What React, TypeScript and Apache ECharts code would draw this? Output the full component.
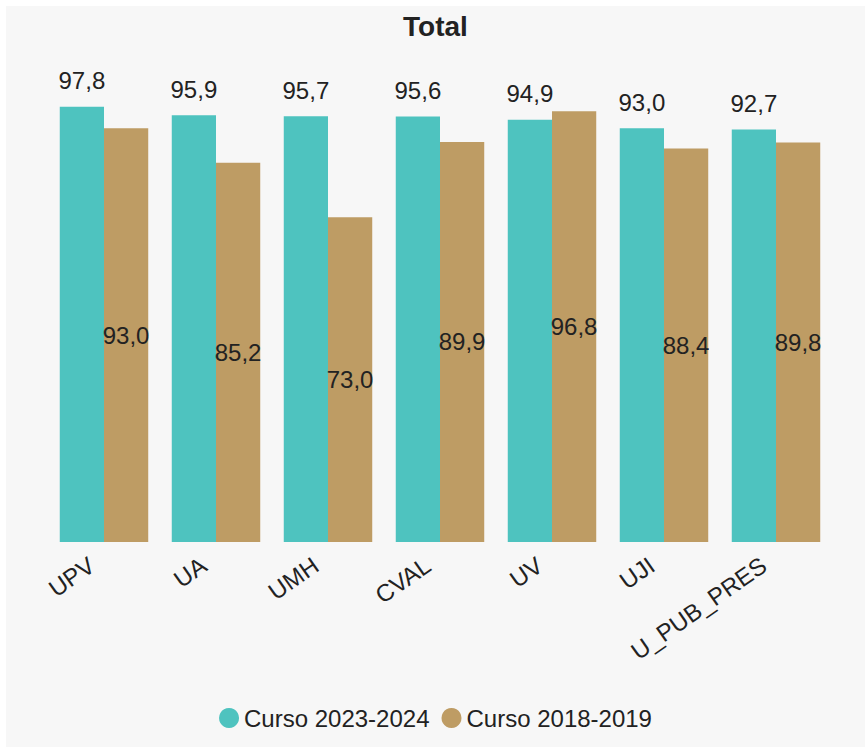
import React, { useEffect, useRef } from "react";
import * as echarts from "echarts";

const categories = ["UPV", "UA", "UMH", "CVAL", "UV", "UJI", "U_PUB_PRES"];
const curso2023 = [97.8, 95.9, 95.7, 95.6, 94.9, 93.0, 92.7];
const curso2018 = [93.0, 85.2, 73.0, 89.9, 96.8, 88.4, 89.8];
const seriesNames = ["Curso 2023-2024", "Curso 2018-2019"];

const fmt = (p: any) => Number(p.value).toFixed(1).replace(".", ",");
const FONT = "Arial, 'Liberation Sans', sans-serif";

export default function App() {
  const ref = useRef<HTMLDivElement>(null);
  useEffect(() => {
    if (!ref.current) return;
    const chart = echarts.init(ref.current, undefined, { renderer: "svg" });
    chart.setOption({
      animation: false,
      backgroundColor: "#f7f7f7",
      textStyle: { fontFamily: FONT },
      title: {
        text: "Total",
        left: "center",
        top: 1,
        textStyle: { fontSize: 28, fontWeight: "bold", color: "#222", fontFamily: FONT },
      },
      legend: {
        bottom: 12,
        left: "center",
        icon: "circle",
        itemWidth: 20,
        itemHeight: 20,
        itemGap: 12,
        itemTextGap: 4,
        textStyle: { fontSize: 24, color: "#222", fontFamily: FONT },
        data: seriesNames,
      },
      grid: { left: 42, right: 33, top: 91, bottom: 205, containLabel: false },
      xAxis: {
        type: "category",
        data: categories,
        axisLine: { show: false },
        axisTick: { show: false },
        axisLabel: {
          rotate: 35,
          fontSize: 24,
          color: "#222",
          margin: 12,
          padding: [0, 15, 0, 0],
          fontFamily: FONT,
        },
      },
      yAxis: {
        type: "value",
        min: 0,
        max: 100,
        show: false,
        splitLine: { show: false },
      },
      series: [
        {
          name: seriesNames[0],
          type: "bar",
          data: curso2023,
          barGap: "0%",
          barCategoryGap: "21%",
          itemStyle: { color: "#4ec3bf" },
          label: {
            show: true,
            position: "top",
            distance: 14,
            formatter: fmt,
            fontSize: 24,
            color: "#222",
            fontFamily: FONT,
          },
        },
        {
          name: seriesNames[1],
          type: "bar",
          data: curso2018,
          barGap: "0%",
          barCategoryGap: "21%",
          itemStyle: { color: "#be9c64" },
          label: {
            show: true,
            position: "inside",
            formatter: fmt,
            fontSize: 24,
            color: "#222",
            fontFamily: FONT,
          },
        },
      ],
    });
    return () => chart.dispose();
  }, []);
  return (
    <div
      ref={ref}
      style={{ position: "absolute", left: 6, top: 6, width: 859, height: 741 }}
    />
  );
}
